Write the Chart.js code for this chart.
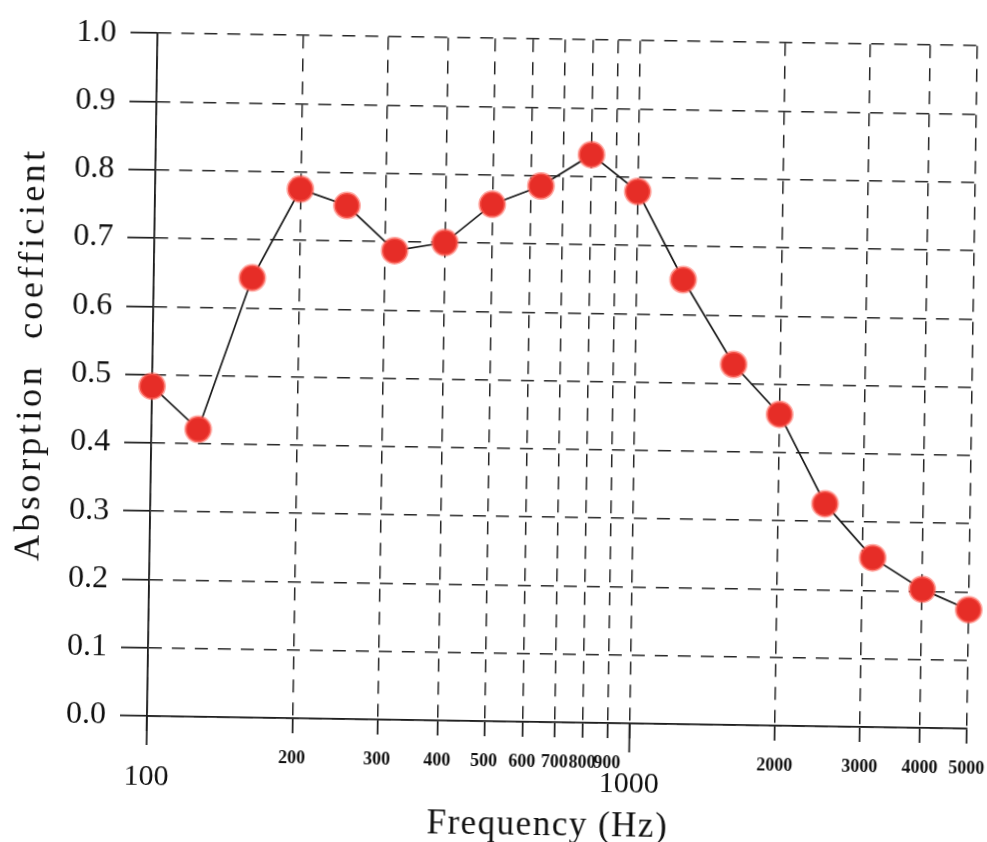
<!DOCTYPE html>
<html>
<head>
<meta charset="utf-8">
<script src="https://cdn.jsdelivr.net/npm/chart.js@4"></script>
<style>
  html, body { margin: 0; padding: 0; background: #fff; overflow: hidden; }
  #wrap { width: 987px; height: 842px; position: relative; }
  /* the source is a slightly tilted scan, so the whole plot is turned a little */
  #absChart { display: block; transform: rotate(0.88deg); transform-origin: 147px 716px; }
</style>
</head>
<body>
<div id="wrap"><canvas id="absChart" width="987" height="842"></canvas></div>
<script>
// 1/3 octave band centres (Hz)
const frequencies = [100, 125, 160, 200, 250, 315, 400, 500, 630, 800, 1000, 1250, 1600, 2000, 2500, 3150, 4000, 5000];
// absorption coefficient
const absorption = [0.483, 0.421, 0.644, 0.775, 0.752, 0.687, 0.700, 0.757, 0.785, 0.832, 0.779, 0.651, 0.528, 0.456, 0.326, 0.248, 0.203, 0.174];
// x grid / tick values
const xTicks = [100, 200, 300, 400, 500, 600, 700, 800, 900, 1000, 2000, 3000, 4000, 5000];
const xMajor = [100, 1000];

const serif = "'Liberation Serif', 'DejaVu Serif', serif";
const ink = '#1c1c1c';

const scanLabels = {
    id: 'scanLabels',
    afterDraw(chart) {
        const ctx = chart.ctx;
        const xs = chart.scales.x;
        const area = chart.chartArea;
        ctx.save();
        ctx.fillStyle = '#111';
        ctx.strokeStyle = ink;
        ctx.lineWidth = 1.7;
        ctx.textAlign = 'center';
        ctx.textBaseline = 'middle';
        xTicks.forEach(v => {
            const px = xs.getPixelForValue(v);
            if (xMajor.includes(v)) {
                ctx.beginPath();
                ctx.moveTo(px, area.bottom);
                ctx.lineTo(px, area.bottom + 29);
                ctx.stroke();
                ctx.font = '30px ' + serif;
                ctx.fillText(String(v), px, area.bottom + 61);
            } else {
                ctx.font = 'bold 18px ' + serif;
                ctx.fillText(String(v), px, area.bottom + 40);
            }
        });
        // axis titles
        if ('letterSpacing' in ctx) ctx.letterSpacing = '1.5px';
        ctx.font = '35px ' + serif;
        ctx.fillText('Frequency (Hz)', 549, 820);
        ctx.save();
        ctx.translate(27, 356);
        ctx.rotate(-Math.PI / 2);
        if ('letterSpacing' in ctx) ctx.letterSpacing = '3.5px';
        ctx.font = '36px ' + serif;
        ctx.fillText('Absorption  coefficient', 0, 0);
        ctx.restore();
        ctx.restore();
    }
};

const points = frequencies.map((f, i) => ({ x: f, y: absorption[i] }));

new Chart(document.getElementById('absChart'), {
    type: 'line',
    data: {
        datasets: [{
            data: points,
            borderColor: '#1a1a1a',
            borderWidth: 1.7,
            tension: 0,
            pointRadius: 12.5,
            pointHoverRadius: 12.5,
            pointBackgroundColor: '#e62d27',
            pointBorderColor: 'rgba(255, 100, 90, 0.55)',
            pointBorderWidth: 3,
            clip: false
        }]
    },
    options: {
        responsive: false,
        animation: false,
        events: [],
        layout: { padding: { top: 30, right: 20, left: 0, bottom: 0 } },
        plugins: {
            legend: { display: false },
            tooltip: { enabled: false }
        },
        scales: {
            x: {
                type: 'logarithmic',
                min: 100,
                max: 5000,
                afterBuildTicks: scale => { scale.ticks = xTicks.map(v => ({ value: v })); },
                afterFit: scale => { scale.height = 126; },
                ticks: { display: false },
                grid: {
                    color: '#262626',
                    lineWidth: 1.5,
                    tickLength: 15,
                    tickColor: ink,
                    tickWidth: 1.7
                },
                border: { color: ink, width: 1.8, dash: [13, 10] }
            },
            y: {
                min: 0,
                max: 1,
                afterFit: scale => { scale.width = 147; },
                ticks: {
                    stepSize: 0.1,
                    padding: 14,
                    color: '#111',
                    font: { family: serif, size: 32 },
                    callback: v => Number(v).toFixed(1)
                },
                grid: {
                    color: '#262626',
                    lineWidth: 1.5,
                    tickLength: 27,
                    tickColor: ink,
                    tickWidth: 1.7
                },
                border: { color: ink, width: 1.8, dash: [13, 10] }
            }
        }
    },
    plugins: [scanLabels]
});
</script>
</body>
</html>
